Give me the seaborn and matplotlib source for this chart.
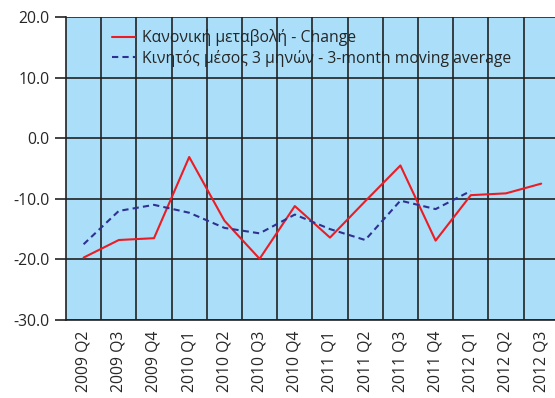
import numpy as np
import pandas as pd
import matplotlib
matplotlib.use("Agg")
import matplotlib.pyplot as plt
import seaborn as sns

quarters = ["2009 Q2", "2009 Q3", "2009 Q4", "2010 Q1", "2010 Q2", "2010 Q3",
            "2010 Q4", "2011 Q1", "2011 Q2", "2011 Q3", "2011 Q4", "2012 Q1",
            "2012 Q2", "2012 Q3"]
change = [-19.7, -16.8, -16.5, -3.1, -13.6, -19.9, -11.2, -16.4, -10.4,
          -4.5, -16.9, -9.4, -9.1, -7.5]
moving_avg = [-17.5, -12.0, -11.0, -12.3, -14.8, -15.7, -12.6, -15.0, -16.8,
              -10.3, -11.7, -8.7, np.nan, np.nan]
label_change = "Κανονική μεταβολή - Change"
label_avg = "Κινητός μέσος 3 μηνών - 3-month moving average"
y_ticks = [-30, -20, -10, 0, 10, 20]

sns.set_theme(style="white")
plt.rcParams["font.family"] = ["Open Sans", "DejaVu Sans"]

pos = np.arange(len(quarters))
df = pd.DataFrame({"pos": pos, "change": change, "avg": moving_avg})

fig = plt.figure(figsize=(5.55, 3.98), dpi=100)
ax = fig.add_axes([66 / 555, 78 / 398, 489 / 555, 303 / 398])
ax.set_facecolor("#abdff9")

sns.lineplot(data=df, x="pos", y="change", ax=ax, color="#ec1c24",
             linewidth=1.5, label=label_change)
sns.lineplot(data=df, x="pos", y="avg", ax=ax, color="#2e3192",
             linewidth=1.5, linestyle=(0, (3, 2)), label=label_avg)

ax.set_xlim(-0.5, -0.5 + 489 / 35.2)
ax.set_ylim(-30, 20)

ax.set_xticks(pos)
ax.set_xticklabels(quarters, rotation=90, fontsize=11.3, color="#262626")
ax.set_xticks(pos[:-1] + 0.5, minor=True)
ax.tick_params(axis="x", which="both", length=0, pad=8)

ax.set_yticks(y_ticks)
ax.set_yticklabels([f"{v:.1f}" for v in y_ticks], fontsize=11.3, color="#262626")
ax.tick_params(axis="y", which="major", left=True, length=8, width=1.2,
               color="#222222", pad=4)

ax.grid(True, axis="y", which="major", color="#222222", linewidth=1.2)
ax.grid(True, axis="x", which="minor", color="#222222", linewidth=1.2)
ax.grid(False, axis="x", which="major")
ax.set_axisbelow(False)
for line in ax.get_lines():
    line.set_zorder(3)

ax.set_xlabel("")
ax.set_ylabel("")
for side in ["top", "right"]:
    ax.spines[side].set_visible(False)
for side in ["left", "bottom"]:
    ax.spines[side].set_color("#222222")
    ax.spines[side].set_linewidth(1.2)

leg = ax.legend(loc="upper left", bbox_to_anchor=(0.075, 0.99), frameon=False,
                fontsize=11.3, handlelength=1.45, handletextpad=0.45,
                labelspacing=0.2, borderaxespad=0.2)
for t in leg.get_texts():
    t.set_color("#262626")

fig.savefig("out.png", dpi=100)
